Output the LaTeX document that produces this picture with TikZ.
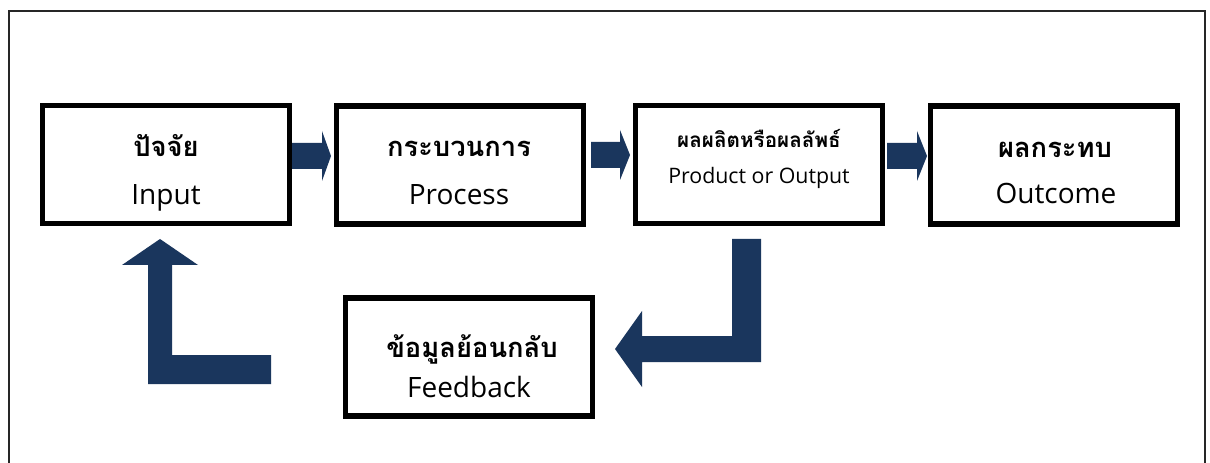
\documentclass[tikz,border=0pt]{standalone}
\usepackage{fontspec}
\setmainfont{Open Sans}
\newfontfamily\thaifont[Script=Thai]{Loma}
\definecolor{navy}{RGB}{26,54,93}
\begin{document}
\begin{tikzpicture}[x=0.75pt,y=-0.75pt,
  box/.style={draw=black,line width=3.9pt,minimum width=185.25pt,minimum height=88.5pt,inner sep=0pt,fill=white},
  thaitext/.style={font=\thaifont\bfseries\fontsize{20.5pt}{25pt}\selectfont,anchor=base,inner sep=0pt},
  thaismall/.style={font=\thaifont\bfseries\fontsize{15.5pt}{19pt}\selectfont,anchor=base,inner sep=0pt},
  engtext/.style={font=\fontsize{21pt}{25pt}\selectfont,anchor=base,inner sep=0pt},
  engsmall/.style={font=\fontsize{16pt}{19pt}\selectfont,anchor=base,inner sep=0pt},
  blockarrow/.style={fill=navy},
  frameline/.style={draw=black!85,line width=1.5pt}]
\useasboundingbox (0,0) rectangle (1210,463);
\fill[white] (0,0) rectangle (1210,463);
% outer frame
\draw[frameline] (8.5,470) -- (8.5,11) -- (1205,11) -- (1205,470);
% boxes
\node[box] (in)  at (166,164.5) {};
\node[box] (pr)  at (460,165) {};
\node[box] (out) at (759,164.5) {};
\node[box] (oc)  at (1054,165) {};
\node[box] (fb)  at (469,357) {};
% texts
\node[thaitext] (inT) at (166,157) {ปัจจัย};
\node[engtext]  (inE) at (166,205) {Input};
\node[thaitext] (prT) at (459,157) {กระบวนการ};
\node[engtext]  (prE) at (459,205) {Process};
\node[thaismall] (outT) at (759,148) {ผลผลิตหรือผลลัพธ์};
\node[engsmall]  (outE) at (759,184) {Product or Output};
\node[thaitext] (ocT) at (1055,158) {ผลกระทบ};
\node[engtext]  (ocE) at (1056,204) {Outcome};
\node[thaitext] (fbT) at (472,357) {ข้อมูลย้อนกลับ};
\node[engtext]  (fbE) at (469,397) {Feedback};
% horizontal block arrows
\fill[blockarrow] (292,143) -- (322,143) -- (322,131) -- (331,156) -- (322,181) -- (322,169) -- (292,169) -- cycle;
\fill[blockarrow] (591,142) -- (620,142) -- (620,130) -- (630,155) -- (620,180) -- (620,168) -- (591,168) -- cycle;
\fill[blockarrow] (887,143) -- (917,143) -- (917,131) -- (927,156) -- (917,181) -- (917,169) -- (887,169) -- cycle;
% feedback arrows
\fill[blockarrow] (732,239) -- (761,239) -- (761,362) -- (642,362) -- (642,387) -- (615,349) -- (642,311) -- (642,336) -- (732,336) -- cycle;
\fill[blockarrow] (160,239) -- (198,265) -- (172,265) -- (172,355) -- (271,355) -- (271,384) -- (148,384) -- (148,265) -- (122,265) -- cycle;
\end{tikzpicture}
\end{document}
